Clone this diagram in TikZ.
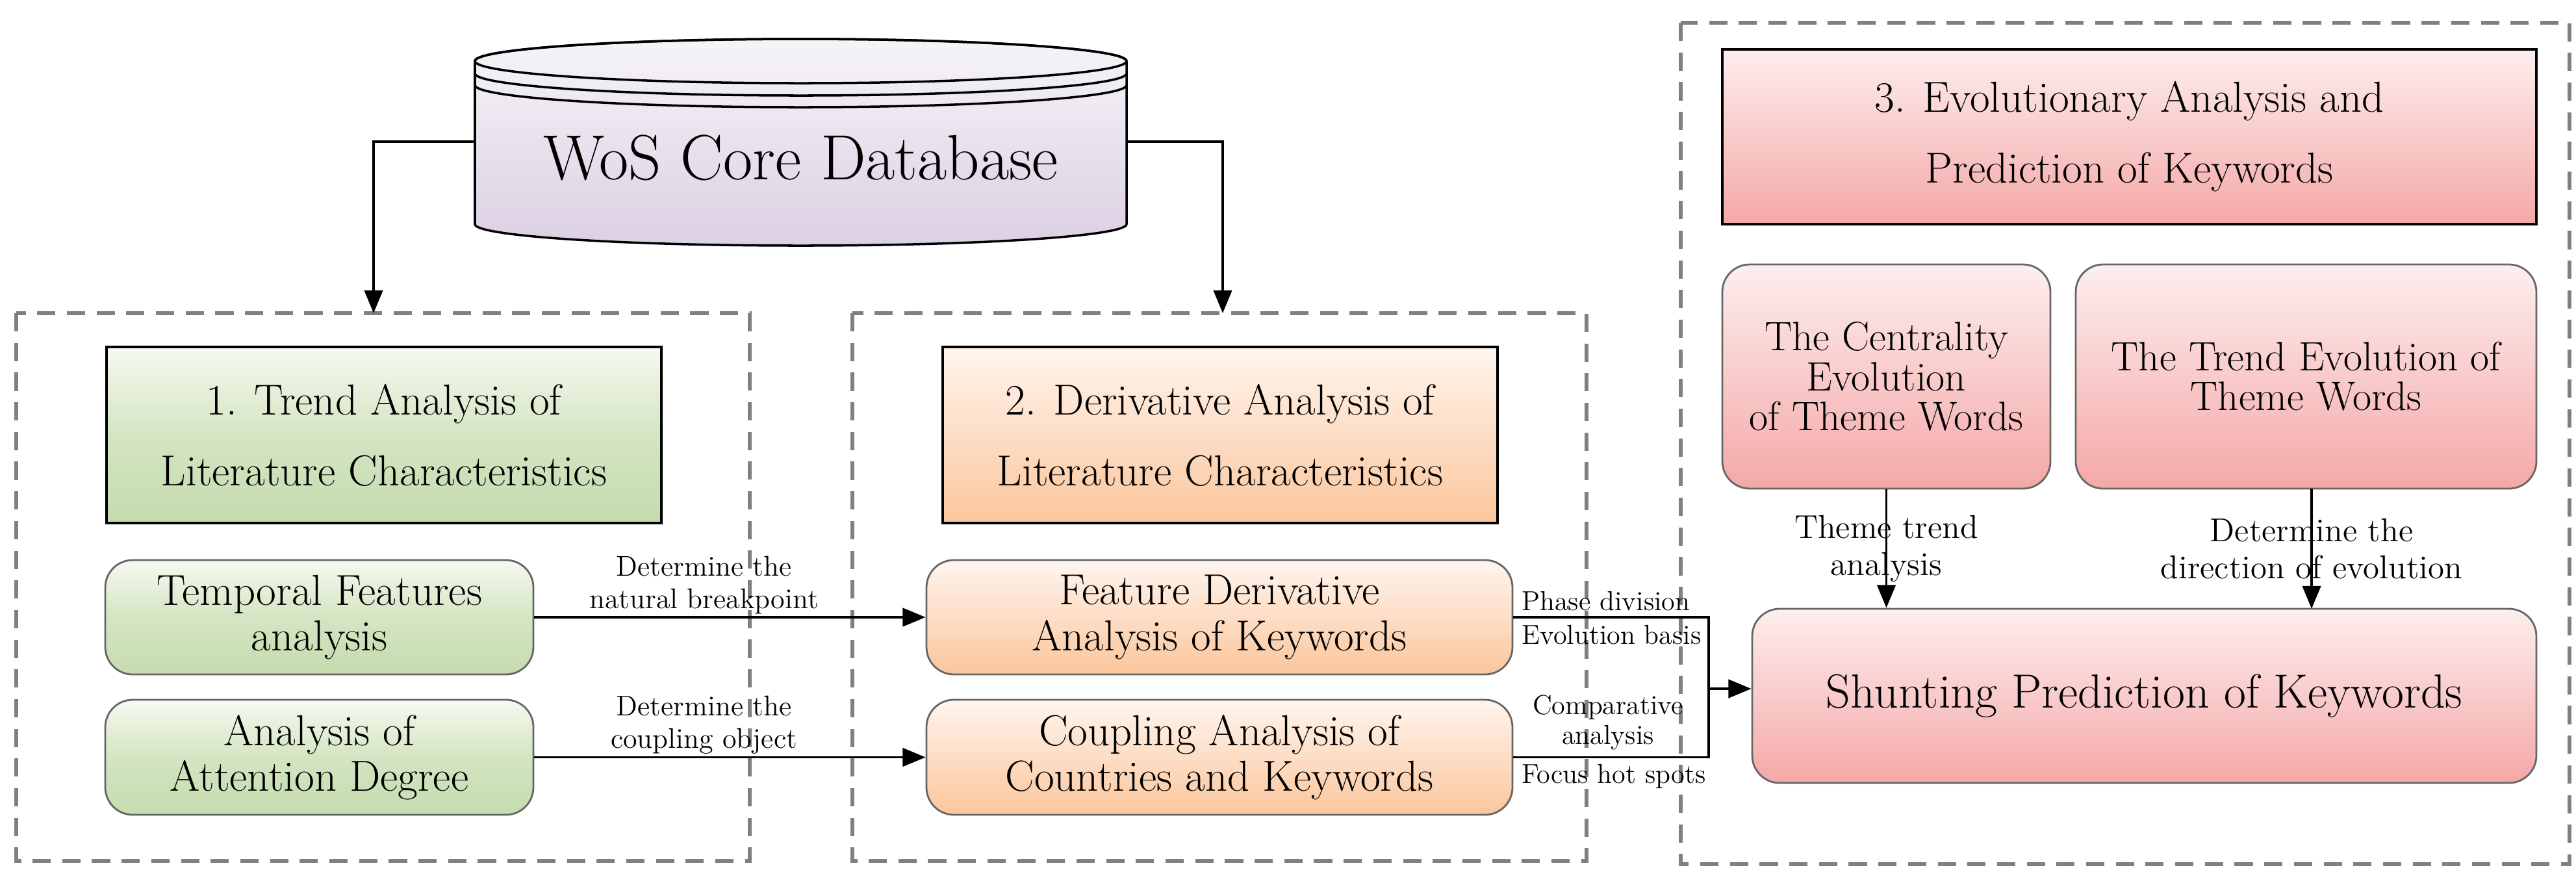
\documentclass[tikz,border=0pt]{standalone}
\usepackage{fontspec}
\usetikzlibrary{arrows.meta}
\definecolor{grnA}{HTML}{F6F9F1}\definecolor{grnB}{HTML}{C5DCAE}
\definecolor{orA}{HTML}{FFF5EE}\definecolor{orB}{HTML}{FBC69C}
\definecolor{rdA}{HTML}{FDEEEE}\definecolor{rdB}{HTML}{F4A8A7}
\definecolor{dbA}{HTML}{F6F4F8}\definecolor{dbB}{HTML}{DCD0E3}
\definecolor{dashc}{HTML}{808080}
\tikzset{
 grp/.style={draw=dashc,line width=1.6pt,dash pattern=on 8pt off 5pt},
 title/.style={draw=black,line width=1.3pt,align=center,font=\fontsize{19}{31}\selectfont,inner sep=0pt},
 rbox/.style={draw=gray!80!black,line width=0.8pt,rounded corners=12pt,align=center,inner sep=0pt},
 gshade/.style={top color=grnA,bottom color=grnB,middle color=grnB!70!grnA},
 oshade/.style={top color=orA,bottom color=orB},
 rshade/.style={top color=rdA,bottom color=rdB},
 arr/.style={line width=1.1pt,-{Triangle[width=8pt,length=10pt]}},
 ln/.style={line width=1.1pt},
 lab/.style={align=center,font=\fontsize{12.5}{14}\selectfont,inner sep=1pt},
 slab/.style={font=\fontsize{12}{13}\selectfont,inner sep=1pt},
}
\begin{document}
\begin{tikzpicture}
\useasboundingbox (0,0) rectangle (39.65,-13.38);
% group boxes
\draw[grp] (0.25,-4.82) rectangle (11.54,-13.25);
\draw[grp] (13.12,-4.82) rectangle (24.42,-13.25);
\draw[grp] (25.87,-0.35) rectangle (39.55,-13.3);
% database
\shade[top color=dbA,bottom color=dbB,draw=black,line width=1pt]
 (7.31,-0.94) -- (7.31,-3.45) arc[start angle=180,end angle=360,x radius=5.015,y radius=0.33]
 -- (17.34,-0.94) arc[start angle=0,end angle=180,x radius=5.015,y radius=0.34] -- cycle;
\draw[line width=1pt] (12.325,-0.94) ellipse[x radius=5.015,y radius=0.34];
\draw[line width=1pt] (7.31,-1.13) arc[start angle=180,end angle=360,x radius=5.015,y radius=0.34];
\draw[line width=1pt] (7.31,-1.31) arc[start angle=180,end angle=360,x radius=5.015,y radius=0.34];
\node[font=\fontsize{28}{30}\selectfont] (db) at (12.325,-2.43) {WoS Core Database};
\coordinate (dbL) at (7.31,-2.18);
\coordinate (dbR) at (17.34,-2.18);
\coordinate (g1) at (5.75,-4.82);
\coordinate (g2) at (18.82,-4.82);
\draw[arr] (dbL) -| (g1);
\draw[arr] (dbR) -| (g2);
% titles
\node[title,gshade,minimum width=8.54cm,minimum height=2.71cm] (t1) at (5.91,-6.695) {1. Trend Analysis of\\Literature Characteristics};
\node[title,oshade,minimum width=8.54cm,minimum height=2.71cm] (t2) at (18.78,-6.695) {2. Derivative Analysis of\\Literature Characteristics};
\node[title,rshade,minimum width=12.53cm,minimum height=2.69cm] (t3) at (32.775,-2.105) {3. Evolutionary Analysis and\\Prediction of Keywords};
% group 1
\node[rbox,gshade,minimum width=6.59cm,minimum height=1.76cm,font=\fontsize{19}{20}\selectfont] (tf) at (4.915,-9.50) {Temporal Features\\analysis};
\node[rbox,gshade,minimum width=6.59cm,minimum height=1.77cm,font=\fontsize{19}{20}\selectfont] (ad) at (4.915,-11.655) {Analysis of\\Attention Degree};
% group 2
\node[rbox,oshade,minimum width=9.02cm,minimum height=1.76cm,font=\fontsize{19}{20}\selectfont] (fd) at (18.77,-9.50) {Feature Derivative\\Analysis of Keywords};
\node[rbox,oshade,minimum width=9.02cm,minimum height=1.77cm,font=\fontsize{19}{20}\selectfont] (ca) at (18.77,-11.655) {Coupling Analysis of\\Countries and Keywords};
% group 3
\node[rbox,rshade,minimum width=5.05cm,minimum height=3.45cm,font=\fontsize{18}{17.5}\selectfont] (ce) at (29.035,-5.795) {The Centrality\\Evolution\\of Theme Words};
\node[rbox,rshade,minimum width=7.09cm,minimum height=3.45cm,font=\fontsize{18}{17.5}\selectfont] (te) at (35.495,-5.795) {The Trend Evolution of\\Theme Words};
\node[rbox,rshade,minimum width=12.07cm,minimum height=2.68cm,font=\fontsize{21}{24}\selectfont] (sp) at (33.005,-10.71) {Shunting Prediction of Keywords};
% connectors
\draw[arr] (tf) -- node[lab,above,pos=0.5,xshift=-0.4cm]{Determine the\\natural breakpoint} (fd);
\draw[arr] (ad) -- node[lab,above,pos=0.5,xshift=-0.4cm]{Determine the\\coupling object} (ca);
\coordinate (jn) at (26.30,-10.60);
\draw[ln] (fd.east) -| (jn);
\draw[ln] (ca.east) -| (jn);
\draw[arr] (jn) -- (jn -| sp.west);
\node[slab,anchor=south west] at (23.38,-9.44) {Phase division};
\node[slab,anchor=north west] at (23.38,-9.58) {Evolution basis};
\node[slab,align=center,anchor=south] at (24.75,-11.58) {Comparative\\analysis};
\node[slab,anchor=north west] at (23.38,-11.72) {Focus hot spots};
\draw[arr] (ce) -- node[lab,font=\fontsize{14.5}{16}\selectfont]{Theme trend\\analysis} (ce |- sp.north);
\draw[arr] (35.58,-7.52) -- node[lab,font=\fontsize{14.5}{16}\selectfont]{Determine the\\direction of evolution} (35.58,-9.37);
\end{tikzpicture}
\end{document}
